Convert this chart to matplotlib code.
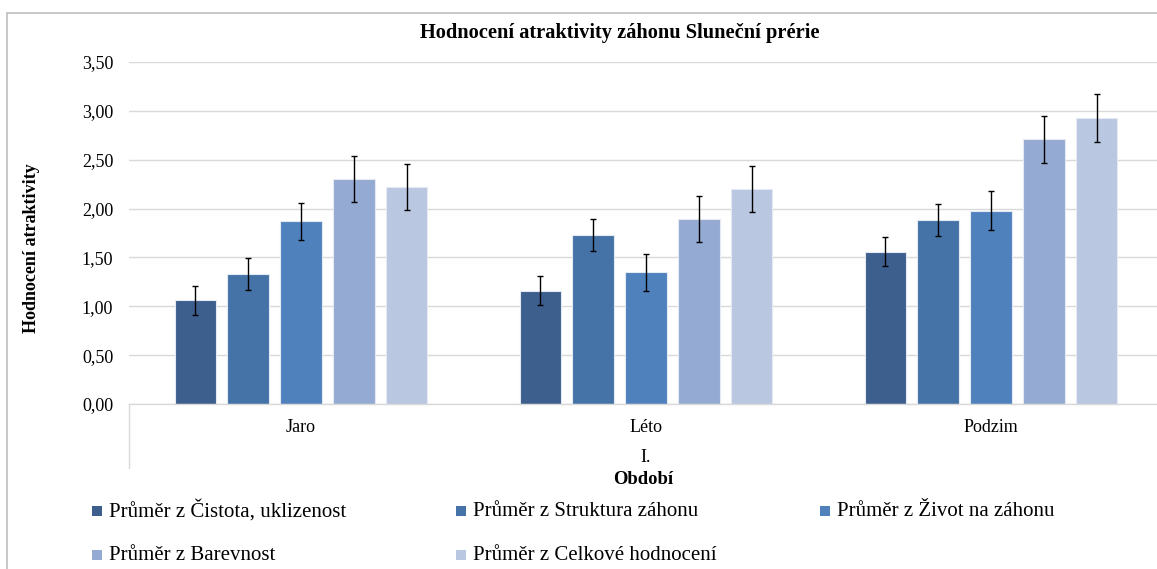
import numpy as np
import matplotlib
matplotlib.use("Agg")
import matplotlib.pyplot as plt
from matplotlib.patches import Rectangle
from matplotlib.lines import Line2D

plt.rcParams['font.family'] = ['Liberation Serif', 'DejaVu Serif']

# Data
categories = ['Jaro', 'Léto', 'Podzim']
series_names = ['Průměr z Čistota, uklizenost', 'Průměr z Struktura záhonu',
                'Průměr z Život na záhonu', 'Průměr z Barevnost',
                'Průměr z Celkové hodnocení']
cistota = [1.06, 1.16, 1.56]
struktura = [1.33, 1.73, 1.88]
zivot = [1.87, 1.35, 1.98]
barevnost = [2.30, 1.89, 2.71]
celkove = [2.22, 2.20, 2.93]
err_cistota = [0.15, 0.15, 0.15]
err_struktura = [0.165, 0.162, 0.165]
err_zivot = [0.19, 0.19, 0.195]
err_barevnost = [0.235, 0.235, 0.24]
err_celkove = [0.238, 0.238, 0.244]
y_ticks = [0, 0.5, 1, 1.5, 2, 2.5, 3, 3.5]
y_ticklabels = ['0,00', '0,50', '1,00', '1,50', '2,00', '2,50', '3,00', '3,50']

values = [cistota, struktura, zivot, barevnost, celkove]
errors = [err_cistota, err_struktura, err_zivot, err_barevnost, err_celkove]
colors = ['#3C5F8E', '#4573A7', '#4F81BD', '#95AAD2', '#BAC7E0']

W, H = 1157, 569
fig = plt.figure(figsize=(W / 100, H / 100), dpi=100)

# plot area in pixel coordinates
x0, x1, y0, y1 = 128.5, 1157, 404, 62
ax = fig.add_axes([x0 / W, 1 - y0 / H, (x1 - x0) / W, (y0 - y1) / H])

step = 0.1533
width = 0.12
x = np.arange(len(categories))
for j, (vals, errs) in enumerate(zip(values, errors)):
    pos = x + (j - 2) * step
    ax.bar(pos, vals, width, color=colors[j], edgecolor='#E4EAF4', linewidth=0.8, zorder=2)
    ax.errorbar(pos, vals, yerr=errs, fmt='none', ecolor='black', elinewidth=1,
                capsize=2.4, capthick=1, zorder=3)

ax.set_xlim(-0.5, -0.5 + (x1 - x0) / 345)
ax.set_ylim(0, 3.5)
ax.set_yticks(y_ticks)
ax.set_yticklabels(y_ticklabels, fontsize=13)
ax.tick_params(axis='y', length=0, pad=11)
ax.set_xticks(x)
ax.set_xticklabels(categories, fontsize=13)
ax.tick_params(axis='x', length=0, pad=11)
ax.grid(axis='y', color='#D9D9D9', linewidth=1)
ax.set_axisbelow(True)
for s in ['top', 'right', 'left']:
    ax.spines[s].set_visible(False)
ax.spines['bottom'].set_color('#D9D9D9')
ax.spines['bottom'].set_linewidth(1)

# category-axis left divider
fig.add_artist(Line2D([x0 / W, x0 / W], [1 - 404 / H, 1 - 468 / H], color='#D9D9D9', lw=1))

# outer chart border
fig.add_artist(Rectangle((7 / W, -0.1), 1.2, 1 - 13 / H + 0.1, fill=False,
                         edgecolor='#BFBFBF', lw=1.2))

fig.text(620 / W, 1 - 33 / H, 'Hodnocení atraktivity záhonu Sluneční prérie',
         ha='center', va='center', fontsize=14.7, fontweight='bold')
fig.text(32 / W, 1 - 248 / H, 'Hodnocení atraktivity', rotation=90,
         ha='center', va='center', fontsize=13, fontweight='bold')
fig.text(646 / W, 1 - 457 / H, 'I.', ha='center', va='center', fontsize=13)
fig.text(643 / W, 1 - 479 / H, 'Období', ha='center', va='center',
         fontsize=13.4, fontweight='bold')

# legend
for k, name in enumerate(series_names):
    col, row = k % 3, k // 3
    lx = 92 + 364 * col
    ly = 511 + 44 * row
    fig.add_artist(Rectangle((lx / W, 1 - (ly + 5) / H), 10 / W, 10 / H,
                             facecolor=colors[k], edgecolor='none'))
    fig.text((lx + 17) / W, 1 - ly / H, name, ha='left', va='center', fontsize=15)

fig.savefig('out.png', dpi=100)
